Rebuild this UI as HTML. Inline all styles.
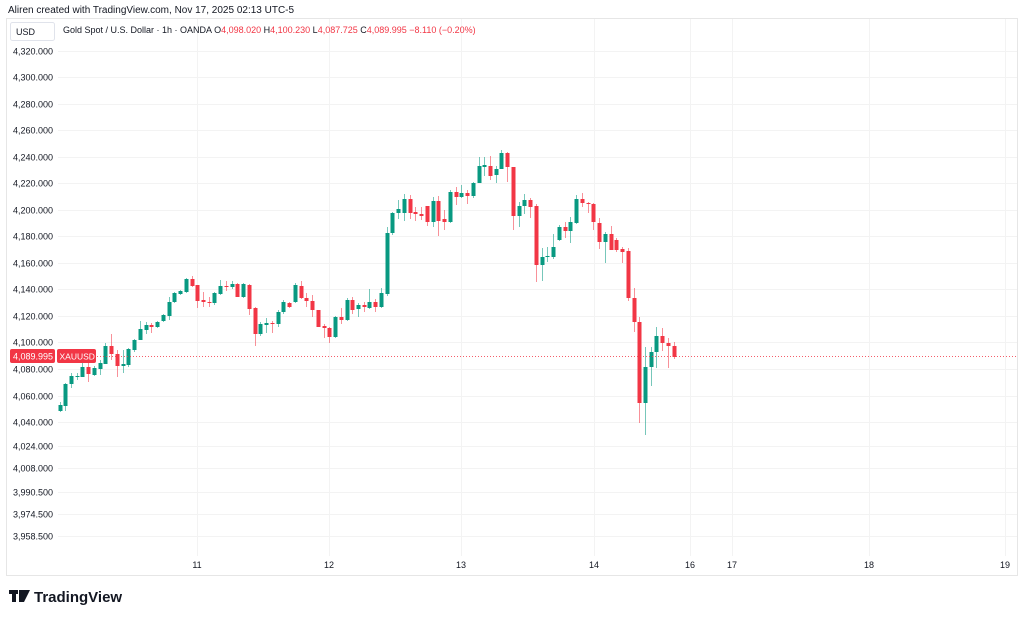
<!DOCTYPE html>
<html><head><meta charset="utf-8"><style>
html,body{margin:0;padding:0;background:#fff;width:1024px;height:618px;overflow:hidden;font-family:"Liberation Sans","DejaVu Sans",sans-serif}
</style></head><body>
<svg id="s" width="1024" height="618" xmlns="http://www.w3.org/2000/svg" font-family="Liberation Sans, DejaVu Sans, sans-serif">
<rect width="1024" height="618" fill="#fff"/>
<text x="8" y="13" font-size="10" fill="#131722">Aliren created with TradingView.com, Nov 17, 2025 02:13 UTC-5</text>
<rect x="6.5" y="18.5" width="1011" height="557" fill="none" stroke="#e6e6e6"/>
<g id="grid"></g>
<rect x="10.5" y="22.5" width="44" height="18" rx="2" fill="#fff" stroke="#e0e3eb"/>
<text x="16" y="35" font-size="9" fill="#131722">USD</text>
<text x="63" y="33" font-size="9" fill="#131722">Gold Spot / U.S. Dollar · 1h · OANDA <tspan>O</tspan><tspan fill="#f23645">4,098.020</tspan> H<tspan fill="#f23645">4,100.230</tspan> L<tspan fill="#f23645">4,087.725</tspan> C<tspan fill="#f23645">4,089.995</tspan> <tspan fill="#f23645">−8.110 (−0.20%)</tspan></text>
<g id="c"></g>
<line x1="58" y1="356.5" x2="1017" y2="356.5" stroke="#f23645" stroke-dasharray="1,2" stroke-width="1" opacity="0.8"/>
<rect x="10" y="349" width="45" height="14" rx="2" fill="#f23645"/>
<text x="13" y="359.5" font-size="9" fill="#fff">4,089.995</text>
<rect x="57" y="349" width="39" height="14" rx="2" fill="#f23645"/>
<text x="59.5" y="359.5" font-size="8.5" fill="#fff">XAUUSD</text>
<g fill="#131722"><rect x="9" y="590" width="9" height="4"/><rect x="12" y="590" width="4" height="12"/><path d="M19 590 H30 L24 602 H19 Z"/></g>
<text x="34" y="602" font-size="15" font-weight="bold" fill="#131722">TradingView</text>
</svg>
<script>
var ns="http://www.w3.org/2000/svg",g=document.getElementById('grid'),c=document.getElementById('c');
function el(p,t,a,txt){var e=document.createElementNS(ns,t);for(var k in a)e.setAttribute(k,a[k]);if(txt)e.textContent=txt;p.appendChild(e);return e;}
var ys=[["4,320.000",51],["4,300.000",77],["4,280.000",104],["4,260.000",130],["4,240.000",157],["4,220.000",183],["4,200.000",210],["4,180.000",236],["4,160.000",263],["4,140.000",289],["4,120.000",316],["4,100.000",342],["4,080.000",369],["4,060.000",396],["4,040.000",422],["4,024.000",446],["4,008.000",468],["3,990.500",492],["3,974.500",514],["3,958.500",536]];
ys.forEach(function(y){el(g,'line',{x1:58,x2:1017,y1:y[1]+.5,y2:y[1]+.5,stroke:'#f3f3f3'});el(g,'text',{x:13,y:y[1]+3.5,'font-size':9,fill:'#131722'},y[0]);});
var xs=[["11",197],["12",329],["13",461],["14",594],["16",690],["17",732],["18",869],["19",1005]];
xs.forEach(function(x){el(g,'line',{x1:x[1]+.5,x2:x[1]+.5,y1:19,y2:556,stroke:'#f3f3f3'});el(g,'text',{x:x[1],y:568,'font-size':9,fill:'#131722','text-anchor':'middle'},x[0]);});
var d=[[411,405,402,412],[406,384,383,411],[384,376,373,388],[377,376,373,380],[377,367,363,377],[367,374,362,382],[375,368,366,376],[369,363,360,375],[364,346,343,364],[346,354,334,360],[354,366,350,377],[366,364,350,373],[365,349,348,367],[350,340,339,352],[340,329,321,340],[330,325,322,334],[325,327,323,333],[327,322,321,328],[321,315,314,322],[316,302,297,320],[302,293,292,303],[294,291,290,295],[292,279,278,293],[279,286,276,287],[285,301,285,308],[300,302,292,307],[302,303,297,307],[303,293,292,305],[294,286,280,295],[286,287,281,291],[287,284,281,289],[284,297,283,297],[297,284,283,298],[285,309,284,315],[308,334,307,346],[334,324,322,336],[325,323,318,333],[323,324,321,333],[324,312,310,327],[312,302,300,314],[303,307,302,308],[302,285,283,303],[286,298,281,299],[298,301,293,307],[301,310,295,317],[310,327,310,327],[326,328,324,338],[328,337,327,343],[337,317,316,338],[317,320,308,324],[320,300,298,321],[300,310,297,314],[309,305,303,317],[305,307,302,312],[308,302,289,309],[302,307,299,312],[307,293,288,308],[294,233,227,296],[233,213,212,235],[213,209,200,219],[213,199,194,221],[199,213,195,219],[212,214,207,221],[214,216,207,220],[206,222,206,226],[222,201,197,227],[201,221,196,236],[219,222,210,230],[222,192,190,223],[192,197,187,205],[197,193,185,198],[193,196,190,204],[196,183,182,198],[183,166,157,183],[167,165,157,176],[166,176,156,180],[175,169,166,183],[169,153,150,169],[153,167,152,182],[167,216,167,230],[216,206,202,227],[206,200,194,214],[200,207,198,218],[206,265,204,282],[265,257,248,281],[257,256,247,262],[257,247,234,259],[240,227,225,241],[227,231,222,238],[231,222,217,243],[223,199,195,224],[199,203,193,207],[203,204,202,213],[204,222,203,230],[223,242,218,249],[242,234,232,263],[234,250,226,250],[240,250,238,252],[249,252,247,263],[251,298,248,301],[298,322,288,332],[322,403,317,423],[403,367,347,435],[367,352,347,386],[352,336,327,368],[336,343,328,351],[343,346,338,368],[346,357,342,359]];
d.forEach(function(k,i){var x=Math.round(59.5+i*5.74),up=k[1]<k[0],col=up?'#089981':'#f23645';
el(c,'line',{x1:x+.5,x2:x+.5,y1:k[2],y2:k[3],stroke:col,'stroke-opacity':0.55});
var t=Math.min(k[0],k[1]),h=Math.max(1,Math.abs(k[1]-k[0]));
el(c,'rect',{x:x-1.5,y:t,width:4,height:h,fill:col});});
</script>
</body></html>
